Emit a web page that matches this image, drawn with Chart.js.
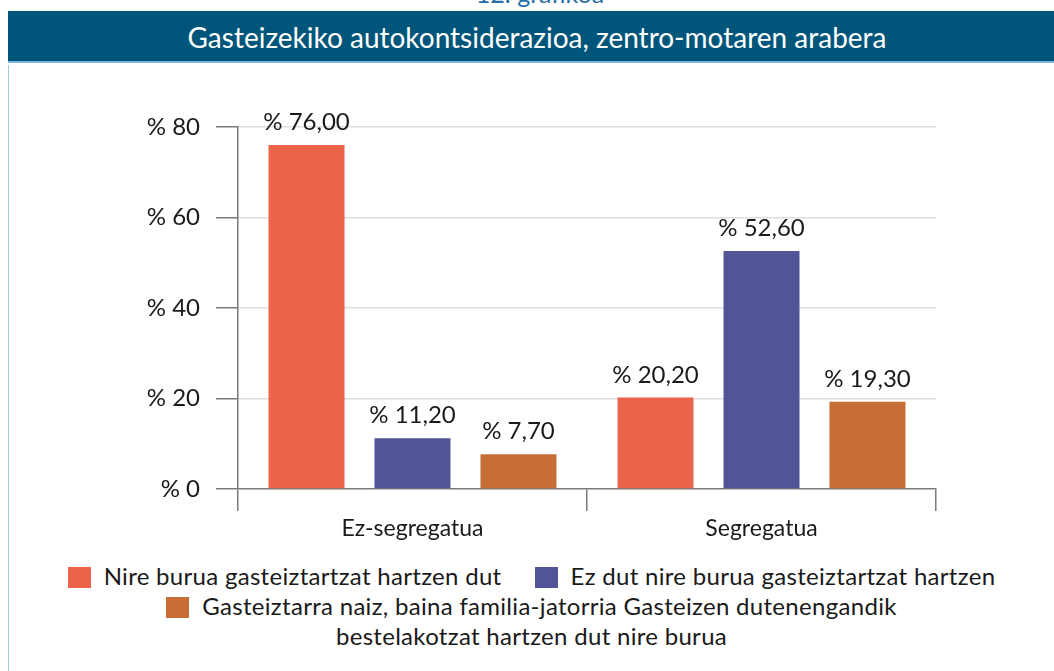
<!DOCTYPE html>
<html>
<head>
<meta charset="utf-8">
<script src="https://cdn.jsdelivr.net/npm/chart.js@4/dist/chart.umd.min.js"></script>
<style>
  body { margin: 0; background: #fff; width: 1054px; height: 671px; overflow: hidden; position: relative; font-family: Lato, "Open Sans", sans-serif; color: #1a1a1a; }
  #caption { position: absolute; left: 0; width: 1080px; top: -19px; line-height: 24px; font-size: 25px; text-align: center; color: #2a6ea6; }
  #header { position: absolute; left: 8px; top: 11px; width: 1046px; height: 52px; line-height: 52px; background: #00557a; border-bottom: 2px solid #7fb5d5; color: #fff; font-size: 28px; text-align: center; padding-left: 12px; box-sizing: border-box; }
  #frame { position: absolute; left: 8px; top: 65px; width: 1046px; height: 606px; border-left: 1px solid #9ccbe3; }
  #wrap { position: absolute; left: 0; top: 0; width: 1045px; height: 484px; }
  #legend { position: absolute; left: 0; top: 496px; width: 1045px; display: flex; flex-wrap: wrap; justify-content: center; column-gap: 33px; font-size: 24px; letter-spacing: 0.3px; line-height: 30px; }
  .item { text-align: center; }
  .box { display: inline-block; width: 23px; height: 21px; vertical-align: middle; margin-right: 13px; position: relative; top: -1px; }
</style>
</head>
<body>
<div id="caption">12. grafikoa</div>
<div id="header">Gasteizekiko autokontsiderazioa, zentro-motaren arabera</div>
<div id="frame">
  <div id="wrap"><canvas id="chart"></canvas></div>
  <div id="legend"></div>
</div>
<script>
// zentro-mota
const categories = ['Ez-segregatua', 'Segregatua'];

const seriesLabels = [
  'Nire burua gasteiztartzat hartzen dut',
  'Ez dut nire burua gasteiztartzat hartzen',
  'Gasteiztarra naiz, baina familia-jatorria Gasteizen dutenengandik bestelakotzat hartzen dut nire burua'
];

const gasteiztarra = [76.0, 20.2];
const ezGasteiztarra = [11.2, 52.6];
const bestelakoa = [7.7, 19.3];

const colors = ['#eb634b', '#515496', '#c76e36'];
const yTicks = [0, 20, 40, 60, 80];

const fmt = v => '% ' + v.toFixed(2).replace('.', ',');

// values over the bars
const valueLabels = {
  id: 'valueLabels',
  afterDatasetsDraw(chart) {
    const ctx = chart.ctx;
    ctx.save();
    ctx.font = '24px Lato';
    ctx.fillStyle = '#1a1a1a';
    ctx.textAlign = 'center';
    ctx.textBaseline = 'alphabetic';
    chart.data.datasets.forEach((ds, i) => {
      chart.getDatasetMeta(i).data.forEach((bar, j) => {
        ctx.fillText(fmt(ds.data[j]), bar.x, bar.y - 15);
      });
    });
    ctx.restore();
  }
};

const ctx = document.getElementById('chart').getContext('2d');
new Chart(ctx, {
  type: 'bar',
  data: {
    labels: categories,
    datasets: [gasteiztarra, ezGasteiztarra, bestelakoa].map((d, i) => ({
      label: seriesLabels[i],
      data: d,
      backgroundColor: colors[i],
      barPercentage: 0.717,
      categoryPercentage: 0.911
    }))
  },
  options: {
    responsive: true,
    maintainAspectRatio: false,
    animation: false,
    layout: { padding: { top: 62, right: 118, bottom: 0, left: 0 } },
    plugins: { legend: { display: false }, tooltip: { enabled: false } },
    scales: {
      x: {
        afterFit: s => { s.height = 60; },
        grid: { offset: true, drawOnChartArea: false, drawTicks: true, tickLength: 22, color: '#7a7a7a', tickColor: '#7a7a7a', lineWidth: 1.5 },
        border: { color: '#7a7a7a', width: 1.5 },
        ticks: { color: '#1a1a1a', font: { family: 'Lato', size: 23 }, padding: 4 }
      },
      y: {
        min: 0,
        max: 80,
        afterFit: s => { s.width = 229; },
        afterBuildTicks: s => { s.ticks = yTicks.map(v => ({ value: v })); },
        grid: {
          color: c => c.tick && c.tick.value === 0 ? 'rgba(0,0,0,0)' : '#dedede',
          tickColor: '#7a7a7a',
          tickLength: 22,
          lineWidth: 1.5
        },
        border: { color: '#7a7a7a', width: 1.5 },
        ticks: { color: '#1a1a1a', font: { family: 'Lato', size: 24 }, padding: 16, callback: v => '% ' + v }
      }
    }
  },
  plugins: [valueLabels]
});

// legend below the chart
const legend = document.getElementById('legend');
seriesLabels.forEach((t, i) => {
  const item = document.createElement('div');
  item.className = 'item';
  if (i === 2) item.style.maxWidth = '790px';
  const box = document.createElement('span');
  box.className = 'box';
  box.style.background = colors[i];
  item.appendChild(box);
  item.appendChild(document.createTextNode(t));
  legend.appendChild(item);
});
</script>
</body>
</html>
